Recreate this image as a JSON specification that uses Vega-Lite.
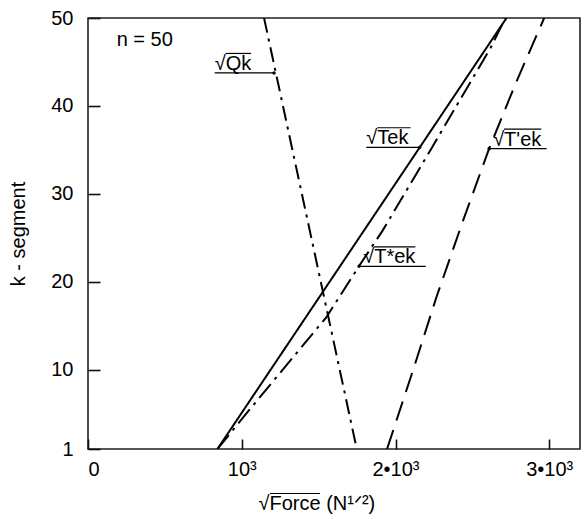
{
  "$schema": "https://vega.github.io/schema/vega-lite/v6.json",
  "width": 492,
  "height": 431,
  "autosize": {"type": "none"},
  "padding": {"left": 88, "top": 18, "right": 5, "bottom": 70},
  "config": {
    "font": "Liberation Sans",
    "view": {"stroke": "#222", "strokeWidth": 1.6},
    "axis": {"labelFont": "Liberation Sans", "titleFont": "Liberation Sans", "labelFontSize": 20, "titleFontSize": 20, "titleFontWeight": "normal", "labelColor": "#000", "titleColor": "#000", "domain": false, "ticks": true, "tickColor": "#111", "tickWidth": 1.6, "grid": false}
  },
  "datasets": {
    "curves": [
      {"series": "Tek", "f": 842, "k": 1},
      {"series": "Tek", "f": 2722, "k": 50},
      {"series": "T*ek", "f": 842, "k": 1},
      {"series": "T*ek", "f": 1052, "k": 5.5},
      {"series": "T*ek", "f": 1399, "k": 12.8},
      {"series": "T*ek", "f": 1551, "k": 16},
      {"series": "T*ek", "f": 1763, "k": 21.8},
      {"series": "T*ek", "f": 1915, "k": 25.8},
      {"series": "T*ek", "f": 2228, "k": 35},
      {"series": "T*ek", "f": 2618, "k": 46.6},
      {"series": "T*ek", "f": 2715, "k": 50},
      {"series": "T'ek", "f": 1945, "k": 1},
      {"series": "T'ek", "f": 2115, "k": 10},
      {"series": "T'ek", "f": 2265, "k": 18.2},
      {"series": "T'ek", "f": 2440, "k": 27},
      {"series": "T'ek", "f": 2610, "k": 35.2},
      {"series": "T'ek", "f": 2780, "k": 42.5},
      {"series": "T'ek", "f": 2967, "k": 50},
      {"series": "Qk", "f": 1145, "k": 50},
      {"series": "Qk", "f": 1748, "k": 1}
    ],
    "labels": [
      {"text": "√Qk", "tx": 824, "x1": 824, "x2": 1210, "k": 43.75, "px": 1210, "ox1": 895, "ox2": 1061, "ok": 45.97},
      {"text": "√Tek", "tx": 1810, "x1": 1810, "x2": 2158, "k": 35.3, "px": 2158, "ox1": 1881, "ox2": 2098, "ok": 37.52},
      {"text": "√T'ek", "tx": 2635, "x1": 2609, "x2": 2983, "k": 35.14, "px": 2609, "ox1": 2706, "ox2": 2948, "ok": 37.36},
      {"text": "√T*ek", "tx": 1790, "x1": 1763, "x2": 2197, "k": 21.77, "px": 1763, "ox1": 1861, "ox2": 2129, "ok": 23.99}
    ],
    "titleBar": [{"x1": 1184, "x2": 1509, "k": -4.06}],
    "note": [{"text": "n = 50", "f": 369, "k": 47.5}]
  },
  "layer": [
    {
      "data": {"name": "curves"},
      "mark": {"type": "line", "color": "#000", "strokeWidth": 2, "clip": true},
      "encoding": {
        "x": {"field": "f", "type": "quantitative", "scale": {"domain": [0, 3200], "nice": false, "zero": false},
          "axis": {"values": [0, 1000, 2000, 3000], "labelExpr": "datum.value == 0 ? '0' : datum.value == 1000 ? '10³' : datum.value == 2000 ? '2•10³' : '3•10³'", "offset": -10, "tickSize": 10, "labelPadding": 10, "title": "√Force (N¹ᐟ²)", "titleAlign": "left", "titleAnchor": "start", "titleX": 170, "titlePadding": 14}},
        "y": {"field": "k", "type": "quantitative", "scale": {"domain": [1, 50], "nice": false, "zero": false},
          "axis": {"values": [1, 10, 20, 30, 40, 50], "offset": -12, "tickSize": 12, "labelPadding": 15, "title": "k - segment", "titlePadding": 22}},
        "detail": {"field": "series"},
        "strokeDash": {"field": "series", "type": "nominal", "legend": null,
          "scale": {"domain": ["Tek", "T*ek", "T'ek", "Qk"], "range": [[1, 0], [18, 6, 3, 6], [20, 10], [15, 6, 3, 6]]}}
      }
    },
    {
      "data": {"name": "labels"},
      "mark": {"type": "rule", "color": "#000", "strokeWidth": 1.2},
      "encoding": {
        "x": {"field": "x1", "type": "quantitative"},
        "x2": {"field": "x2"},
        "y": {"field": "k", "type": "quantitative"}
      }
    },
    {
      "data": {"name": "labels"},
      "mark": {"type": "rule", "color": "#000", "strokeWidth": 1.2},
      "encoding": {
        "x": {"field": "ox1", "type": "quantitative"},
        "x2": {"field": "ox2"},
        "y": {"field": "ok", "type": "quantitative"}
      }
    },
    {
      "data": {"name": "titleBar"},
      "mark": {"type": "rule", "color": "#000", "strokeWidth": 1.2, "clip": false},
      "encoding": {
        "x": {"field": "x1", "type": "quantitative"},
        "x2": {"field": "x2"},
        "y": {"field": "k", "type": "quantitative"}
      }
    },
    {
      "data": {"name": "labels"},
      "mark": {"type": "point", "filled": true, "color": "#000", "size": 12, "opacity": 1},
      "encoding": {
        "x": {"field": "px", "type": "quantitative"},
        "y": {"field": "k", "type": "quantitative"}
      }
    },
    {
      "data": {"name": "labels"},
      "mark": {"type": "text", "align": "left", "baseline": "alphabetic", "dy": -3, "fontSize": 20, "font": "Liberation Sans", "color": "#000"},
      "encoding": {
        "x": {"field": "tx", "type": "quantitative"},
        "y": {"field": "k", "type": "quantitative"},
        "text": {"field": "text"}
      }
    },
    {
      "data": {"name": "note"},
      "mark": {"type": "text", "align": "center", "baseline": "middle", "fontSize": 20, "font": "Liberation Sans", "color": "#000"},
      "encoding": {
        "x": {"field": "f", "type": "quantitative"},
        "y": {"field": "k", "type": "quantitative"},
        "text": {"field": "text"}
      }
    }
  ]
}
